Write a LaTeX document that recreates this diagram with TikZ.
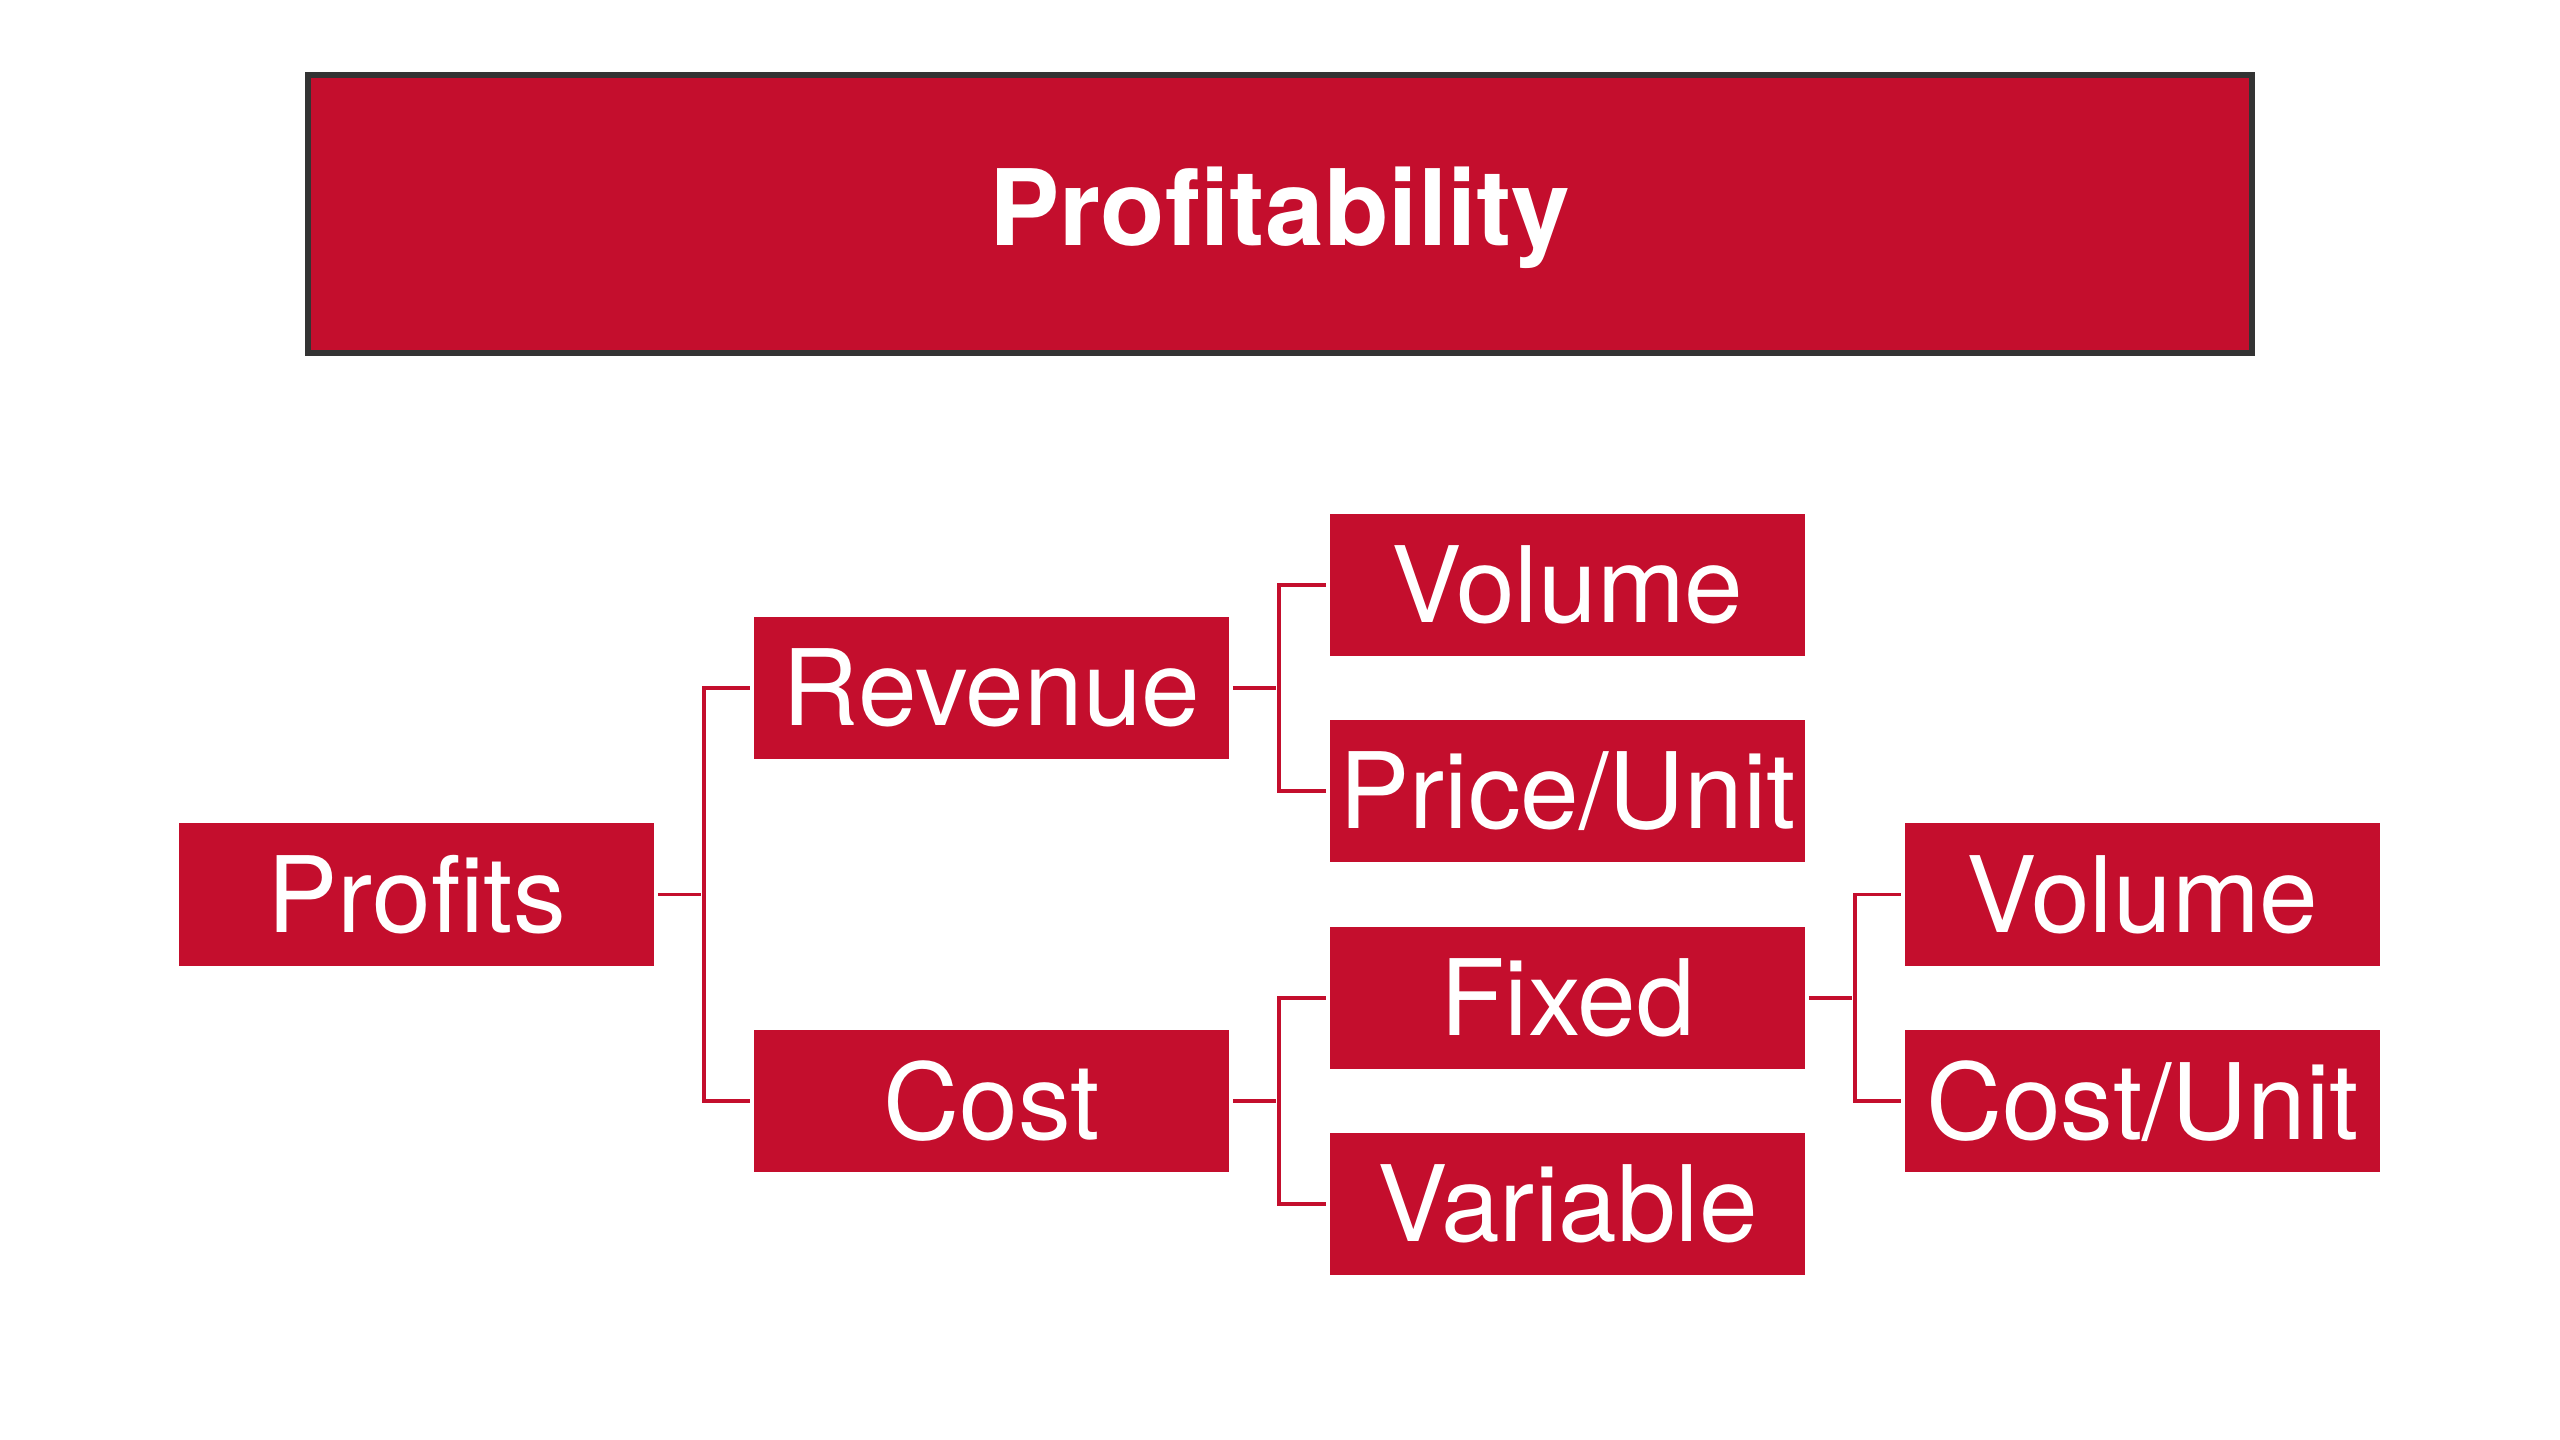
\documentclass[tikz,border=0pt]{standalone}
\usepackage{fontspec}
\setmainfont{TeX Gyre Heros}
\usetikzlibrary{calc}
\definecolor{boxred}{HTML}{C40E2D}
\definecolor{edgegray}{HTML}{333333}
\begin{document}
\begin{tikzpicture}[x=0.01cm,y=-0.01cm,
  box/.style={fill=boxred,draw=none,minimum width=4.75cm,minimum height=1.42cm,inner sep=0pt,
    text=white,font=\fontsize{30}{34}\selectfont},
  titlebox/.style={fill=boxred,draw=edgegray,line width=1.9pt,minimum width=19.43cm,minimum height=2.78cm,
    inner sep=0pt,text=white,text height=24.5pt,text depth=6.3pt,font=\fontsize{30}{34}\selectfont\bfseries},
  conn/.style={draw=boxred,line width=1pt,shorten <=0.03cm,shorten >=0.03cm}]
\useasboundingbox (0,0) rectangle (2560,1440);
\fill[white] (0,0) rectangle (2560,1440);
\node[titlebox] (title) at (1280,214) {Profitability};
\node[box] (prof) at (416.5,894.5) {Profits};
\node[box] (rev) at (991.5,688) {Revenue};
\node[box] (cost) at (991.5,1101) {Cost};
\node[box] (vola) at (1567.5,585) {Volume};
\node[box] (price) at (1567.5,791) {Price/Unit};
\node[box] (fixed) at (1567.5,998) {Fixed};
\node[box] (var) at (1567.5,1204) {Variable};
\node[box] (volb) at (2142.5,894.5) {Volume};
\node[box] (costu) at (2142.5,1101) {Cost/Unit};
\coordinate (b1) at (704,894.5);
\coordinate (b2) at (1279,688);
\coordinate (b3) at (1279,1101);
\coordinate (b4) at (1855,998);
\draw[conn] (prof.east) -- (b1);
\draw[conn,shorten <=0pt] (b1) |- (rev.west);
\draw[conn,shorten <=0pt] (b1) |- (cost.west);
\draw[conn] (rev.east) -- (b2);
\draw[conn,shorten <=0pt] (b2) |- (vola.west);
\draw[conn,shorten <=0pt] (b2) |- (price.west);
\draw[conn] (cost.east) -- (b3);
\draw[conn,shorten <=0pt] (b3) |- (fixed.west);
\draw[conn,shorten <=0pt] (b3) |- (var.west);
\draw[conn] (fixed.east) -- (b4);
\draw[conn,shorten <=0pt] (b4) |- (volb.west);
\draw[conn,shorten <=0pt] (b4) |- (costu.west);
\end{tikzpicture}
\end{document}
